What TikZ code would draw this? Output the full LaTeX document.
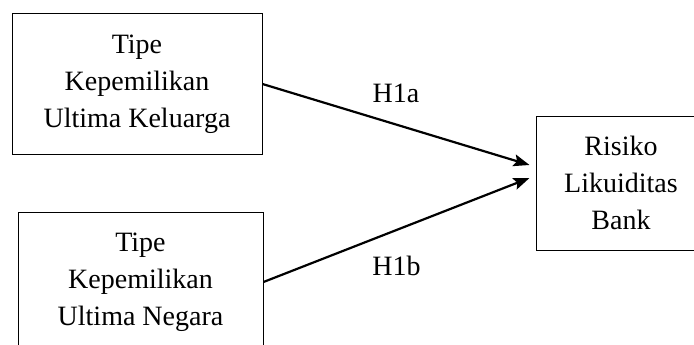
\documentclass[tikz,border=0pt]{standalone}
\usepackage{fontspec}
\setmainfont{Liberation Serif}
\usepackage{tikz}
\usetikzlibrary{arrows.meta}

\begin{document}
\begin{tikzpicture}[x=1pt,y=1pt,>={Stealth[length=16pt,width=12pt,inset=3pt]}]
\tikzstyle{every node}=[font=\fontsize{28}{37}\selectfont, text=black]
\tikzstyle{var}=[draw, line width=1pt, align=center, inner sep=0pt, minimum width=250pt, minimum height=140pt]
\useasboundingbox (0,0) rectangle (694,-345);
\clip (0,0) rectangle (694,-345);
\node[var] (KEL) at (137,-84) {Tipe\\Kepemilikan\\Ultima Keluarga};
\node[var, minimum width=245pt] (NEG) at (140.5,-282) {Tipe\\Kepemilikan\\Ultima Negara};
\node[var, minimum width=170pt, minimum height=134pt] (RLB) at (621,-183) {Risiko\\Likuiditas\\Bank};
\path[->, line width=2.2pt] (KEL.east) edge node[above=17pt]{H1a} ([shift={(-6pt,18pt)}]RLB.west)
      (NEG.east) edge node[below=22pt]{H1b} ([shift={(-6pt,5pt)}]RLB.west);
\end{tikzpicture}
\end{document}
